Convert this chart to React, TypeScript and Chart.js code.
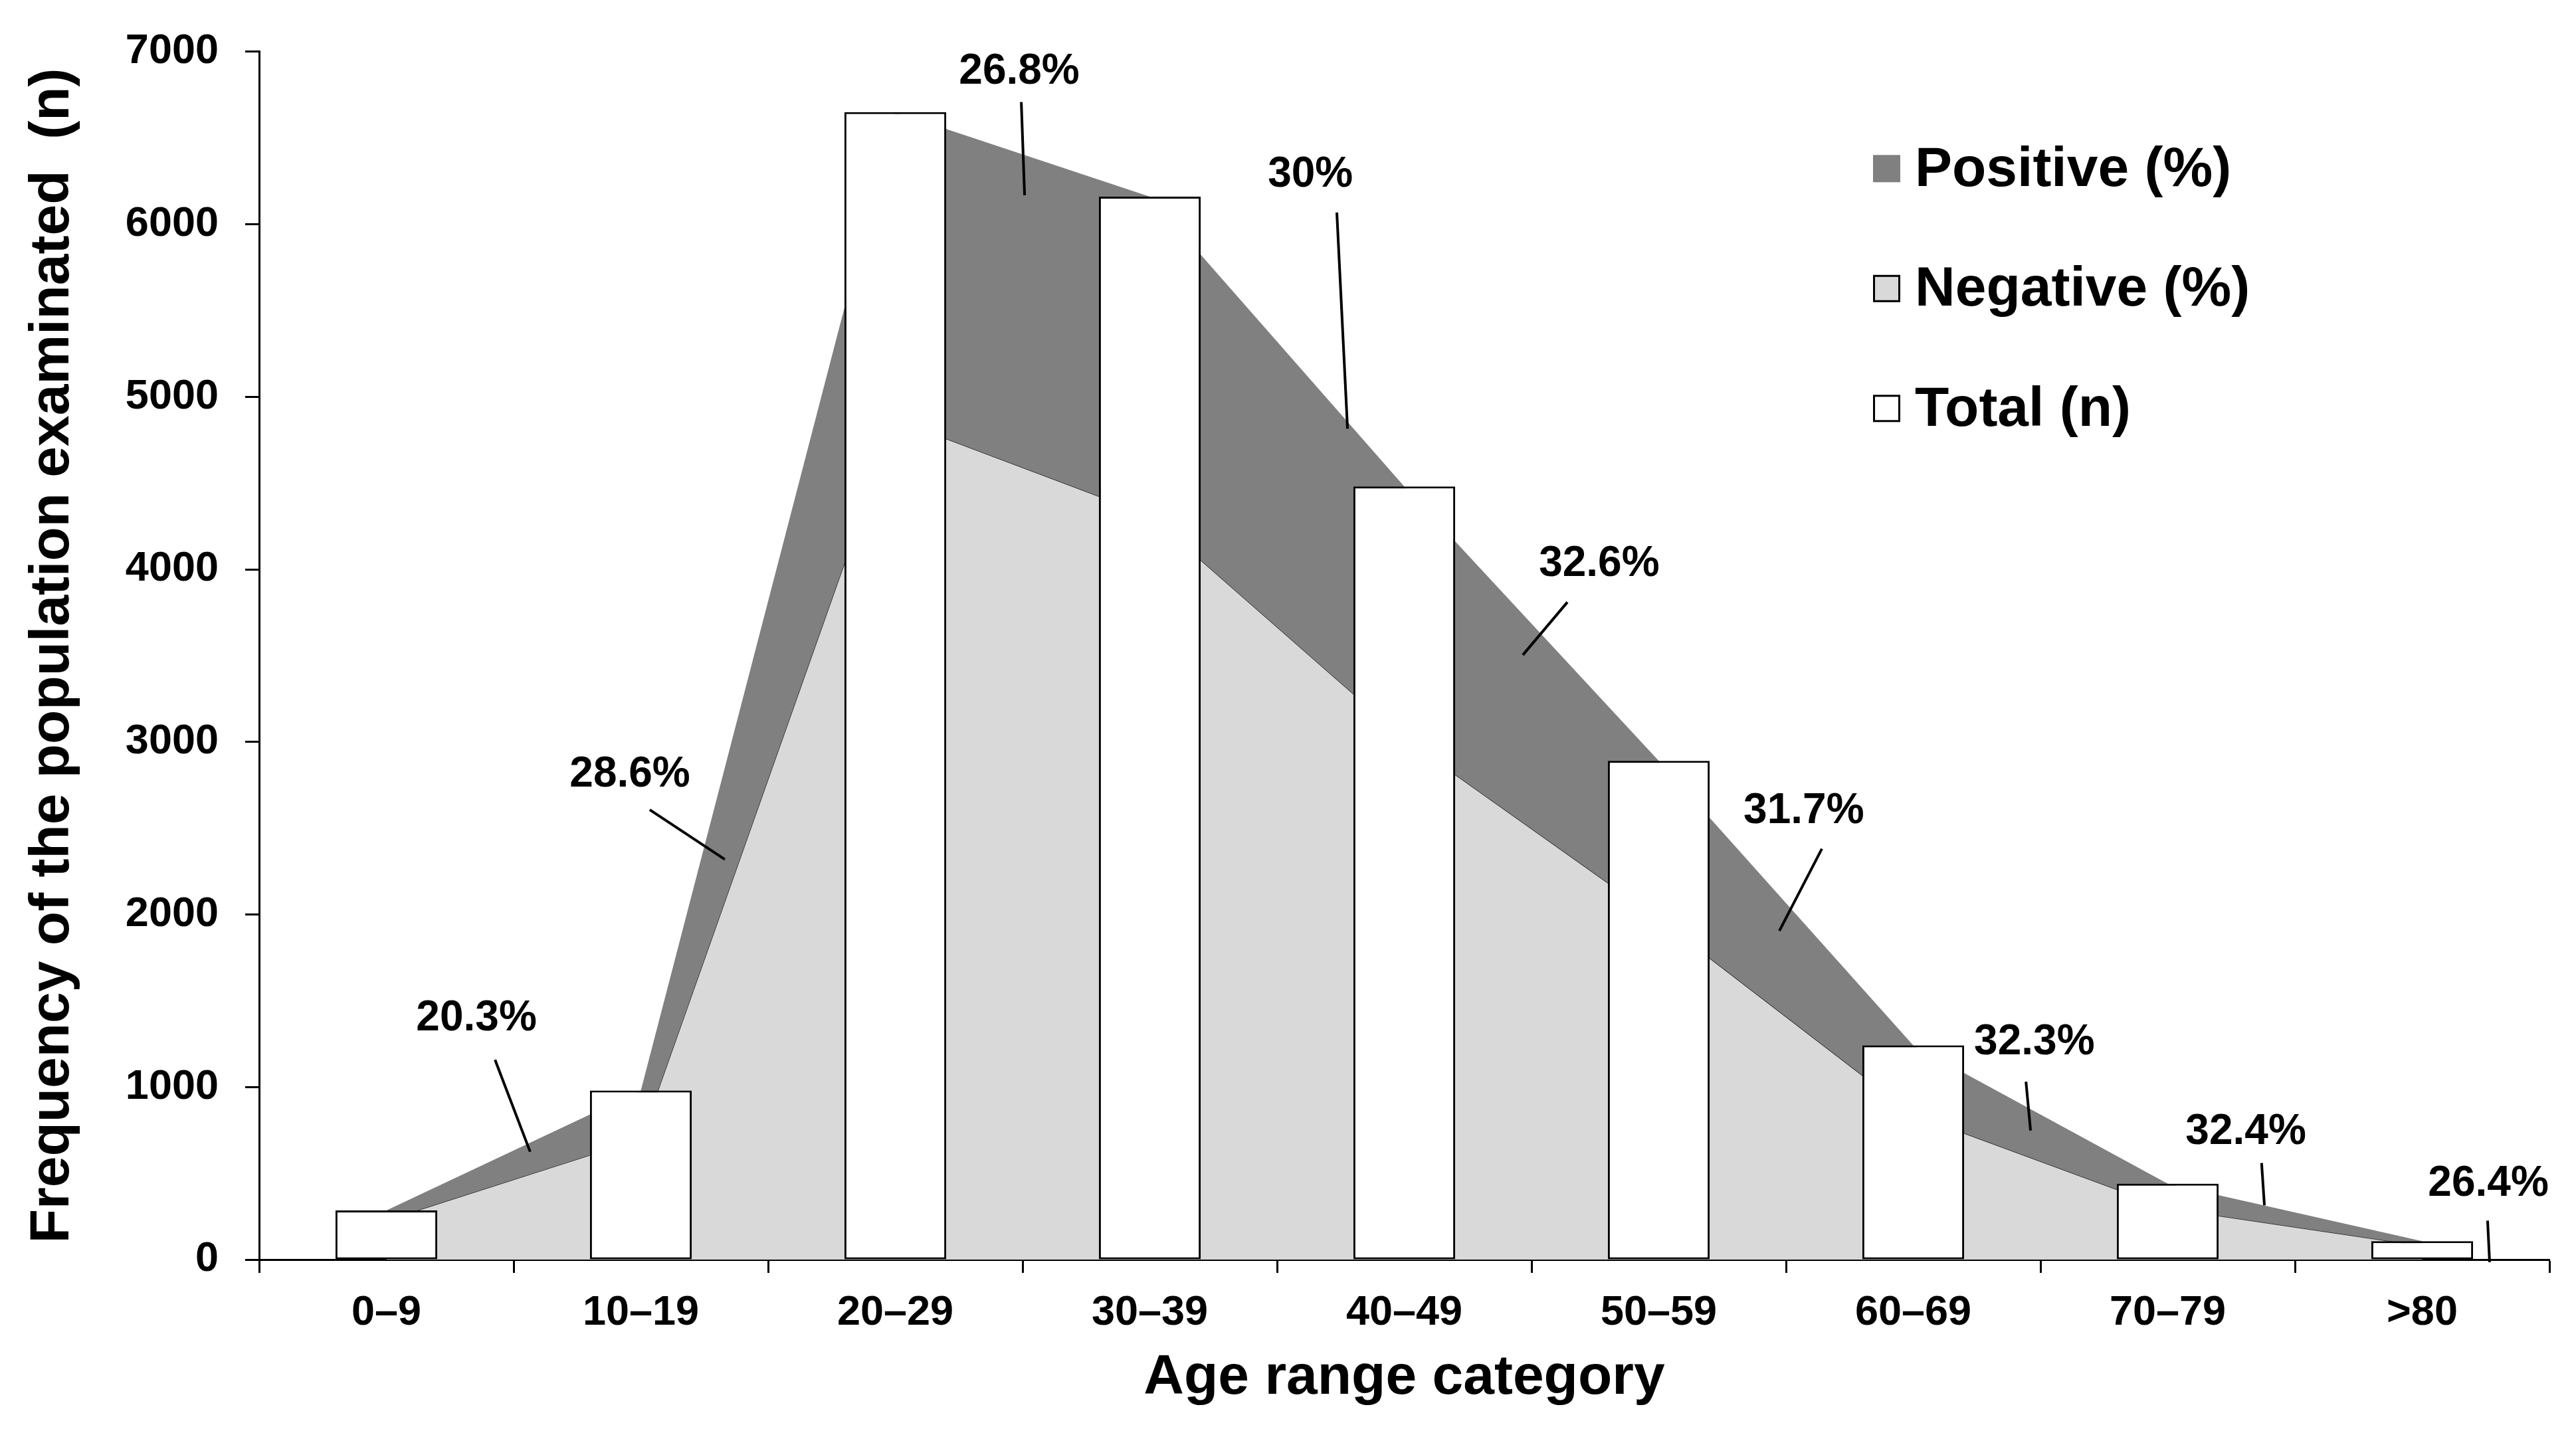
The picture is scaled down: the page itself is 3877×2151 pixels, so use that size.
import React, { useEffect, useRef } from 'react';
import { Chart, registerables } from 'chart.js';

Chart.register(...registerables);

// ---------- data ----------
const categories = ['0–9', '10–19', '20–29', '30–39', '40–49', '50–59', '60–69', '70–79', '>80'];
const totalN = [285, 980, 6650, 6160, 4480, 2890, 1242, 440, 107];
const positivePct = [20.3, 28.6, 26.8, 30, 32.6, 31.7, 32.3, 32.4, 26.4];
const yTickMax = 7000;
const yTickStep = 1000;

// callout anchors (in axis units: category index, count)
const calloutTextX = [0.354, 0.957, 2.487, 3.631, 4.766, 5.57, 6.476, 7.307, 8.26];
const calloutTextY = [1395, 2810, 6881, 6287, 4029, 2599, 1257, 736, 437];
const calloutLineX0 = [0.427, 1.035, 2.495, 3.735, 4.641, 5.641, 6.443, 7.369, 8.257];
const calloutLineY0 = [1158, 2607, 6708, 6068, 3810, 2381, 1031, 560, 226];
const calloutLineX1 = [0.565, 1.33, 2.508, 3.777, 4.466, 5.474, 6.461, 7.38, 8.265];
const calloutLineY1 = [625, 2319, 6168, 4815, 3504, 1905, 748, 314, -15];

const negativeN = totalN.map((t, i) => t * (1 - positivePct[i] / 100));

const FONT = "'Liberation Sans', Arial, Helvetica, sans-serif";
const DARK = '#808080';
const LIGHT = '#d9d9d9';

const calloutPlugin = {
  id: 'callouts',
  afterDatasetsDraw(chart: any) {
    const { ctx, scales } = chart;
    const xs = scales.x;
    const ys = scales.y;
    ctx.save();
    ctx.strokeStyle = '#000';
    ctx.lineWidth = 4;
    ctx.lineCap = 'butt';
    for (let i = 0; i < positivePct.length; i++) {
      ctx.beginPath();
      ctx.moveTo(xs.getPixelForValue(calloutLineX0[i]), ys.getPixelForValue(calloutLineY0[i]));
      ctx.lineTo(xs.getPixelForValue(calloutLineX1[i]), ys.getPixelForValue(calloutLineY1[i]));
      ctx.stroke();
    }
    ctx.fillStyle = '#000';
    ctx.font = `bold 64px ${FONT}`;
    ctx.textAlign = 'center';
    ctx.textBaseline = 'middle';
    for (let i = 0; i < positivePct.length; i++) {
      ctx.fillText(
        `${positivePct[i]}%`,
        xs.getPixelForValue(calloutTextX[i]),
        ys.getPixelForValue(calloutTextY[i])
      );
    }
    ctx.restore();
  },
};

const legendPlugin = {
  id: 'customLegend',
  afterDraw(chart: any) {
    const { ctx, chartArea } = chart;
    const ds = chart.data.datasets;
    const orderIdx = [1, 0, 2];
    const boxX = chartArea.right - 1018;
    const textX = chartArea.right - 955;
    const baseY = chartArea.top + 202;
    const rowGap = 180.5;
    const box = 41;
    ctx.save();
    ctx.font = `bold 84px ${FONT}`;
    ctx.textAlign = 'left';
    ctx.textBaseline = 'alphabetic';
    orderIdx.forEach((di, r) => {
      const d = ds[di];
      const baseline = baseY + r * rowGap;
      const by = baseline - 26 - box / 2;
      ctx.fillStyle = d.legendFill;
      ctx.fillRect(boxX, by, box, box);
      if (d.legendBorder) {
        ctx.strokeStyle = '#000';
        ctx.lineWidth = 3;
        ctx.strokeRect(boxX + 1.5, by + 1.5, box - 3, box - 3);
      }
      ctx.fillStyle = '#000';
      ctx.fillText(d.label, textX, baseline);
    });
    ctx.restore();
  },
};

export default function App() {
  const canvasRef = useRef<HTMLCanvasElement | null>(null);

  useEffect(() => {
    document.body.style.margin = '0';
    document.body.style.overflow = 'hidden';
    const canvas = canvasRef.current;
    if (!canvas) return;
    const chart = new Chart(canvas, {
      type: 'bar',
      data: {
        labels: categories,
        datasets: [
          {
            type: 'line',
            label: 'Negative (%)',
            data: negativeN,
            fill: 'origin',
            backgroundColor: LIGHT,
            borderColor: '#222',
            borderWidth: 1.5,
            pointRadius: 0,
            tension: 0,
            order: 2,
            legendFill: LIGHT,
            legendBorder: true,
          } as any,
          {
            type: 'line',
            label: 'Positive (%)',
            data: totalN,
            fill: '-1',
            backgroundColor: DARK,
            borderColor: DARK,
            borderWidth: 0,
            pointRadius: 0,
            tension: 0,
            order: 1,
            legendFill: DARK,
            legendBorder: false,
          } as any,
          {
            type: 'bar',
            label: 'Total (n)',
            data: totalN,
            backgroundColor: '#ffffff',
            borderColor: '#000',
            borderWidth: 3,
            borderSkipped: false,
            barPercentage: 0.4,
            categoryPercentage: 1.0,
            order: 0,
            legendFill: '#ffffff',
            legendBorder: true,
          } as any,
        ],
      },
      options: {
        responsive: false,
        animation: false,
        devicePixelRatio: 1,
        layout: { padding: { left: 0, right: 40, top: 66, bottom: 0 } },
        plugins: {
          legend: { display: false },
          tooltip: { enabled: false },
          title: { display: false },
        },
        scales: {
          x: {
            type: 'category',
            offset: true,
            grid: {
              display: true,
              offset: true,
              drawOnChartArea: false,
              drawTicks: true,
              tickLength: 20,
              tickWidth: 3,
              tickColor: '#000',
            },
            border: { display: true, color: '#000', width: 3 },
            ticks: {
              color: '#000',
              font: { family: FONT, size: 63, weight: 'bold' },
              padding: 23,
              maxRotation: 0,
              minRotation: 0,
            },
            title: {
              display: true,
              text: 'Age range category',
              color: '#000',
              font: { family: FONT, size: 84, weight: 'bold' },
              padding: { top: 0, bottom: 26 },
            },
            afterFit(scale: any) {
              scale.height = 255;
            },
          },
          y: {
            type: 'linear',
            min: 0,
            max: yTickMax,
            grid: {
              display: true,
              drawOnChartArea: false,
              drawTicks: true,
              tickLength: 21,
              tickWidth: 3,
              tickColor: '#000',
            },
            border: { display: true, color: '#000', width: 3 },
            ticks: {
              stepSize: yTickStep,
              color: '#000',
              font: { family: FONT, size: 63, weight: 'bold' },
              padding: 40,
              callback: (v: any) => String(v),
            },
            title: {
              display: true,
              text: 'Frequency of the population examinated  (n)',
              color: '#000',
              font: { family: FONT, size: 84, weight: 'bold' },
              padding: { top: 29, bottom: 0 },
            },
            afterFit(scale: any) {
              scale.width = 390;
            },
          },
        },
      } as any,
      plugins: [calloutPlugin, legendPlugin],
    });
    return () => chart.destroy();
  }, []);

  return (
    <div style={{ width: 3877, height: 2151, position: 'relative', background: '#fff' }}>
      <canvas ref={canvasRef} width={3877} height={2151} style={{ width: 3877, height: 2151, display: 'block' }} />
    </div>
  );
}
